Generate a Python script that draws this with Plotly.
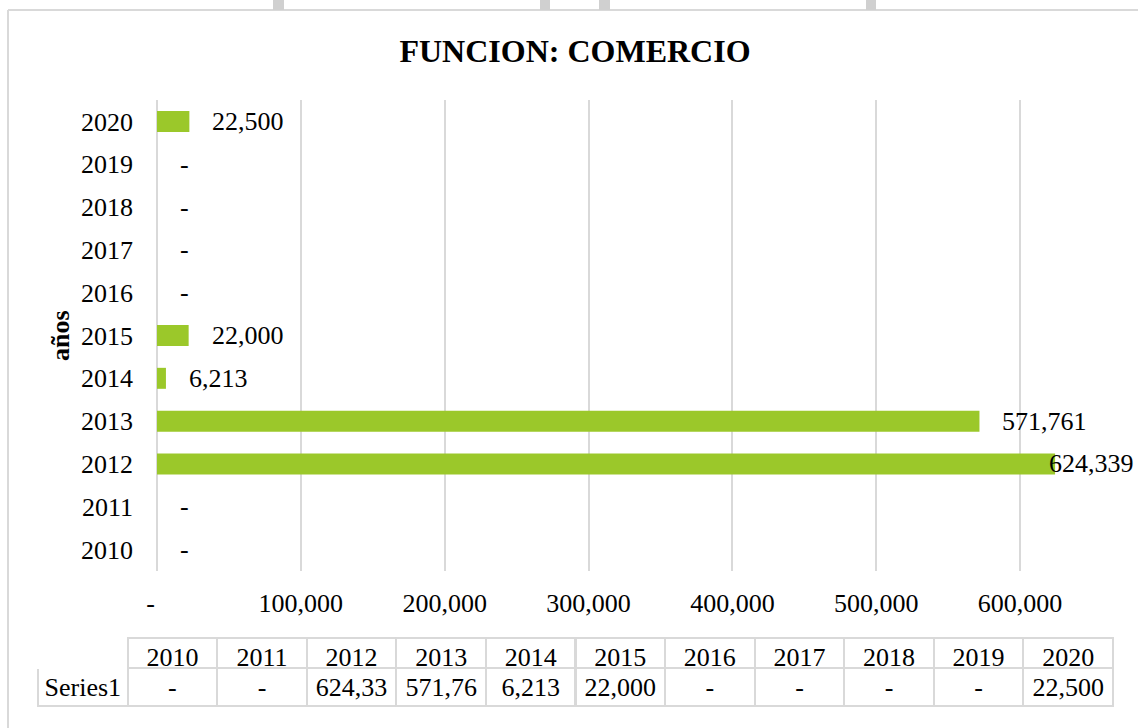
import plotly.graph_objects as go

years = ["2010", "2011", "2012", "2013", "2014", "2015", "2016", "2017", "2018", "2019", "2020"]
values = [0, 0, 624339, 571761, 6213, 22000, 0, 0, 0, 0, 22500]
x_tick_vals = [0, 100000, 200000, 300000, 400000, 500000, 600000]
x_tick_labels = ["-\u00a0\u00a0", "100,000", "200,000", "300,000", "400,000", "500,000", "600,000"]
series_name = "Series1"
title_text = "FUNCION: COMERCIO"
y_title = "años"

W, H = 1138, 728
FONT = "Liberation Serif"
GREEN = "#9BC82A"
GRID = "#d9d9d9"

def fmt(v):
    return "-" if v == 0 else f"{v:,}"

# plot area in pixels
PL, PR, PT, PB = 157, 1092, 100, 571
XMAX = 650000

fig = go.Figure()
fig.add_trace(go.Bar(
    x=values, y=years, orientation="h",
    marker=dict(color=GREEN, line=dict(width=0)),
    showlegend=False, hoverinfo="x+y",
))

# data labels (y given as category index)
LABEL_CAP = 604000
for i, v in enumerate(values):
    fig.add_annotation(
        x=min(v, LABEL_CAP), y=i, xref="x", yref="y",
        text=fmt(v), showarrow=False, xanchor="left", yanchor="middle",
        xshift=21, font=dict(family=FONT, size=26, color="#000"),
    )

# data table
table_vals = [[series_name]] + [[fmt(v)[:6]] for v in values]
n_cols = len(years) + 1
fig.add_trace(go.Table(
    domain=dict(x=[38 / W, 1113 / W], y=[0.0, 1 - 638 / H]),
    columnwidth=[1] * n_cols,
    header=dict(
        values=[""] + years,
        align="center",
        height=30,
        font=dict(family=FONT, size=26, color="#000"),
        fill=dict(color="white"),
        line=dict(color=["white"] + [GRID] * len(years), width=2),
    ),
    cells=dict(
        values=table_vals,
        align="center",
        height=38,
        font=dict(family=FONT, size=26, color="#000"),
        fill=dict(color="white"),
        line=dict(color=GRID, width=2),
    ),
))

fig.update_layout(
    width=W, height=H,
    margin=dict(l=0, r=0, t=0, b=0),
    paper_bgcolor="white", plot_bgcolor="white",
    bargap=0.51,
    title=dict(text=f"<b>{title_text}</b>", x=575 / W, xanchor="center",
               y=1 - 51 / H, yanchor="middle", yref="container",
               font=dict(family=FONT, size=32, color="#000")),
    xaxis=dict(
        domain=[PL / W, PR / W], range=[0, XMAX],
        tickvals=x_tick_vals, ticktext=x_tick_labels,
        showgrid=True, gridcolor=GRID, gridwidth=1.5,
        zeroline=True, zerolinecolor=GRID, zerolinewidth=1.5,
        showline=False, ticks="", ticklabelstandoff=14,
        tickfont=dict(family=FONT, size=26, color="#000"),
        automargin=False, fixedrange=True,
    ),
    yaxis=dict(
        domain=[1 - PB / H, 1 - PT / H], type="category",
        categoryorder="array", categoryarray=years,
        range=[-0.5, len(years) - 0.5],
        showgrid=False, zeroline=False, showline=False, ticks="",
        ticklabelstandoff=23,
        tickfont=dict(family=FONT, size=26, color="#000"),
        automargin=False, fixedrange=True,
    ),
)

fig.add_annotation(
    xref="paper", yref="paper", x=60 / W, y=1 - 336 / H,
    text=f"<b>{y_title}</b>", textangle=-90, showarrow=False,
    xanchor="center", yanchor="middle",
    font=dict(family=FONT, size=26, color="#000"),
)

# outer frame and cut-off artefacts at top
fig.add_shape(type="line", xref="paper", yref="paper", x0=8 / W, x1=1, y0=1 - 10 / H, y1=1 - 10 / H,
              line=dict(color=GRID, width=2))
fig.add_shape(type="line", xref="paper", yref="paper", x0=8 / W, x1=8 / W, y0=0, y1=1 - 10 / H,
              line=dict(color=GRID, width=2))
for a, b in [(273, 284), (540, 550), (599, 610), (866, 876)]:
    fig.add_shape(type="rect", xref="paper", yref="paper", x0=a / W, x1=b / W, y0=1 - 10 / H, y1=1,
                  fillcolor="#d0d0d0", line=dict(width=0))

fig.write_html("out.html", config={"displayModeBar": False},
               post_script="document.body.style.margin='0';")
